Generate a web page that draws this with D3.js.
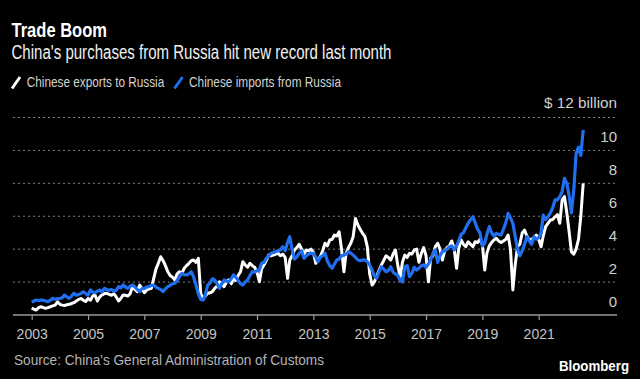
<!DOCTYPE html>
<html>
<head>
<meta charset="utf-8">
<script src="https://cdn.jsdelivr.net/npm/d3@7"></script>
<style>
  html, body { margin: 0; padding: 0; background: #000; }
  svg { display: block; }
  text { font-family: "Liberation Sans", Arial, sans-serif; }
</style>
</head>
<body>
<script>
// ---- Data (US$ billion, monthly, Jan 2003 - Aug 2022) ----
const startYear = 2003;
const seriesNames = ["Chinese exports to Russia", "Chinese imports from Russia"];
const exportsToRussia = [
  0.42, 0.35, 0.3, 0.45, 0.5, 0.45, 0.4, 0.45, 0.5, 0.55, 0.6, 0.8,
  0.65, 0.6, 0.58, 0.62, 0.65, 0.7, 0.75, 0.85, 0.95, 1.0, 0.9, 0.82,
  1.0, 0.9, 1.15, 1.22, 0.85, 1.1, 1.22, 1.3, 1.32, 1.25, 1.2, 1.3,
  1.1, 0.85, 1.0, 1.22, 1.2, 1.15, 1.3, 1.72, 1.55, 1.42, 1.82, 1.6,
  1.35, 1.52, 1.58, 1.62, 2.2, 2.8, 3.14, 3.54, 3.3, 3.0, 2.63, 2.4,
  2.3, 2.13, 2.5, 2.63, 2.53, 2.84, 3.0, 3.14, 3.3, 3.34, 3.2, 3.44,
  1.3, 1.0, 1.15, 1.32, 1.35, 1.42, 1.62, 1.75, 2.02, 1.9, 1.72, 2.0,
  2.13, 1.9, 2.2, 2.1, 2.4, 2.63, 3.24, 3.04, 2.9, 3.14, 3.0, 2.9,
  2.6, 2.02, 2.8, 3.04, 3.3, 3.64, 3.6, 3.64, 3.7, 3.75, 3.6, 3.7,
  3.5, 2.23, 3.34, 3.6, 3.95, 4.1, 4.3, 4.0, 3.7, 3.95, 3.9, 4.0,
  3.8, 3.14, 3.4, 3.54, 3.9, 4.36, 4.2, 4.56, 4.6, 4.86, 4.8, 5.06,
  4.0, 2.63, 3.75, 4.1, 4.36, 4.76, 5.87, 5.47, 5.2, 4.96, 4.76, 4.15,
  2.5, 1.82, 2.0, 2.33, 2.7, 3.04, 3.3, 3.6, 3.5, 3.34, 3.7, 3.95,
  3.0, 2.3, 3.2, 3.64, 3.5, 3.75, 3.7, 3.95, 4.0, 3.2, 3.75, 4.1,
  3.6, 2.02, 3.44, 3.6, 4.15, 4.36, 4.0, 3.34, 3.9, 4.1, 4.2, 4.5,
  4.0, 2.84, 4.05, 4.56, 4.3, 4.15, 4.45, 4.3, 4.15, 4.45, 4.4, 4.6,
  4.3, 2.73, 3.76, 4.2, 4.4, 4.56, 4.66, 4.5, 4.4, 4.5, 4.6, 4.86,
  4.0, 1.52, 3.0, 4.15, 4.3, 4.98, 5.16, 4.8, 4.56, 4.6, 4.7, 4.86,
  4.6, 4.15, 4.8, 5.37, 5.57, 5.77, 5.8, 5.97, 6.1, 5.57, 7.0, 7.2,
  6.2, 5.0, 3.85, 3.7, 4.0, 4.6, 6.0, 8.0
];
const importsFromRussia = [
  0.78, 0.85, 0.91, 0.88, 0.91, 0.9, 0.85, 0.81, 0.9, 1.01, 0.95, 1.0,
  1.0, 1.05, 1.22, 1.1, 1.01, 1.15, 1.32, 1.2, 1.25, 1.3, 1.42, 1.3,
  1.2, 1.52, 1.4, 1.35, 1.45, 1.52, 1.4, 1.62, 1.55, 1.5, 1.55, 1.45,
  1.5, 1.72, 1.65, 1.82, 1.7, 1.62, 1.75, 1.82, 1.7, 1.55, 1.42, 1.6,
  1.62, 1.7, 1.72, 1.8, 1.82, 1.7, 1.62, 1.55, 1.42, 1.6, 1.72, 1.8,
  1.9, 1.93, 2.1, 2.33, 2.53, 2.45, 2.43, 2.5, 2.63, 2.3, 1.82, 1.3,
  0.95, 0.91, 1.2, 1.82, 1.93, 2.2, 2.13, 1.9, 1.62, 1.9, 2.13, 2.05,
  2.02, 2.2, 2.43, 2.3, 2.1, 1.9, 1.82, 2.0, 2.13, 2.4, 2.63, 2.6,
  2.7, 2.73, 3.14, 3.2, 3.44, 3.6, 3.75, 3.8, 3.85, 3.9, 3.95, 4.15,
  3.9, 4.4, 4.76, 3.95, 3.4, 3.54, 3.75, 3.9, 3.44, 3.6, 3.7, 3.75,
  3.75, 3.5, 3.24, 3.5, 3.6, 3.75, 3.3, 3.0, 2.84, 3.1, 3.34, 3.4,
  3.6, 3.64, 3.7, 3.85, 3.75, 3.64, 3.5, 3.34, 3.3, 3.35, 3.34, 3.24,
  3.04, 2.73, 2.4, 2.23, 2.6, 2.93, 2.8, 2.63, 2.7, 2.93, 2.6, 2.5,
  2.4, 2.1, 2.0, 2.93, 3.0, 2.33, 2.53, 2.9, 2.73, 2.84, 3.0, 3.04,
  2.9, 3.1, 3.34, 3.75, 3.95, 3.2, 3.6, 3.85, 3.9, 4.0, 4.15, 4.2,
  3.95, 4.2, 4.5, 4.9, 5.0, 5.3, 5.57, 5.8, 5.97, 5.6, 5.2, 5.0,
  4.2, 4.36, 4.9, 5.37, 5.0, 4.8, 4.96, 4.9, 4.86, 5.2, 5.6, 6.18,
  5.9, 5.57, 4.8, 4.0, 3.6, 3.9, 4.3, 4.76, 4.5, 4.3, 4.76, 4.6,
  4.7, 5.0, 6.07, 5.8, 5.97, 6.2, 6.5, 6.99, 7.0, 7.19, 7.5, 8.3,
  8.0, 7.2, 6.2, 7.6, 9.8, 10.2, 9.7, 11.25
];
const xTickYears = [2003, 2005, 2007, 2009, 2011, 2013, 2015, 2017, 2019, 2021];
const yTickValues = [0, 2, 4, 6, 8, 10];
const yTopLabel = "$ 12 billion";

// ---- Layout ----
const W = 640, H = 379;
const svg = d3.select("body").append("svg").attr("width", W).attr("height", H);
svg.append("rect").attr("width", W).attr("height", H).attr("fill", "#000");

const x = d3.scaleTime()
  .domain([new Date(2003, 0, 1), new Date(2021, 0, 1)])
  .range([31.7, 538.7]);
const y = d3.scaleLinear().domain([0, 12]).range([315, 117.5]);
const gridLeft = 13, gridRight = 617;

const toPoints = arr => arr.map((v, i) => ({ date: new Date(startYear, i, 1), value: v }));
const exportsData = toPoints(exportsToRussia);
const importsData = toPoints(importsFromRussia);

// Titles
svg.append("text").attr("x", 11.5).attr("y", 37.3)
  .attr("font-size", 19.5).attr("font-weight", "bold").attr("fill", "#fff")
  .attr("textLength", 95.5).attr("lengthAdjust", "spacingAndGlyphs")
  .text("Trade Boom");
svg.append("text").attr("x", 11.5).attr("y", 59)
  .attr("font-size", 19.5).attr("fill", "#f0f0f0")
  .attr("textLength", 380).attr("lengthAdjust", "spacingAndGlyphs")
  .text("China's purchases from Russia hit new record last month");

// Legend
const legend = [
  { name: seriesNames[0], color: "#ffffff", sx: 12, tx: 26.7, w: 137.6 },
  { name: seriesNames[1], color: "#1f6ff0", sx: 174.5, tx: 189, w: 152 }
];
legend.forEach(l => {
  svg.append("line").attr("x1", l.sx).attr("y1", 88.5).attr("x2", l.sx + 8).attr("y2", 77)
    .attr("stroke", l.color).attr("stroke-width", 3).attr("stroke-linecap", "butt");
  svg.append("text").attr("x", l.tx).attr("y", 87.3)
    .attr("font-size", 14.5).attr("fill", "#d2d2d2")
    .attr("textLength", l.w).attr("lengthAdjust", "spacingAndGlyphs")
    .text(l.name);
});

// Gridlines (including top 12 line)
const gridVals = [2, 4, 6, 8, 10, 12];
svg.append("g").selectAll("line").data(gridVals).join("line")
  .attr("x1", gridLeft).attr("x2", gridRight)
  .attr("y1", d => y(d)).attr("y2", d => y(d))
  .attr("stroke", "#808080").attr("stroke-width", 1).attr("stroke-dasharray", "2,3");

// Y labels (above gridlines, right-aligned)
svg.append("g").selectAll("text").data(yTickValues).join("text")
  .attr("x", gridRight).attr("y", d => y(d) - 8.5)
  .attr("text-anchor", "end").attr("font-size", 15).attr("fill", "#cfcfcf")
  .text(d => d);
svg.append("text").attr("x", gridRight).attr("y", y(12) - 9.2)
  .attr("text-anchor", "end").attr("font-size", 15).attr("fill", "#cfcfcf")
  .attr("textLength", 73).attr("lengthAdjust", "spacingAndGlyphs")
  .text(yTopLabel);

// X axis
const xAxis = d3.axisBottom(x)
  .tickValues(xTickYears.map(yr => new Date(yr, 0, 1)))
  .tickFormat(d3.timeFormat("%Y"))
  .tickSize(5).tickPadding(9);
const gx = svg.append("g").attr("transform", `translate(0,${y(0)})`).call(xAxis);
gx.select(".domain").remove();
gx.selectAll(".tick line").attr("stroke", "#9a9a9a").attr("stroke-width", 1.2);
gx.selectAll(".tick text").attr("fill", "#c4c4c4").attr("font-size", 14)
  .attr("font-family", "Liberation Sans, Arial, sans-serif");
svg.append("line").attr("x1", gridLeft).attr("x2", gridRight)
  .attr("y1", y(0)).attr("y2", y(0)).attr("stroke", "#9a9a9a").attr("stroke-width", 1.5);

// Lines
const line = d3.line().x(d => x(d.date)).y(d => y(d.value)).curve(d3.curveLinear);
svg.append("path").datum(exportsData).attr("d", line)
  .attr("fill", "none").attr("stroke", "#ffffff").attr("stroke-width", 3)
  .attr("stroke-linejoin", "round");
svg.append("path").datum(importsData).attr("d", line)
  .attr("fill", "none").attr("stroke", "#1f6ff0").attr("stroke-width", 3.2)
  .attr("stroke-linejoin", "round");

// Footer
svg.append("text").attr("x", 14).attr("y", 365)
  .attr("font-size", 14.5).attr("fill", "#b4b4b4")
  .attr("textLength", 310).attr("lengthAdjust", "spacingAndGlyphs")
  .text("Source: China's General Administration of Customs");
svg.append("text").attr("x", 559).attr("y", 371)
  .attr("font-size", 14).attr("font-weight", "bold").attr("fill", "#fff")
  .attr("textLength", 70).attr("lengthAdjust", "spacingAndGlyphs")
  .text("Bloomberg");
</script>
</body>
</html>
